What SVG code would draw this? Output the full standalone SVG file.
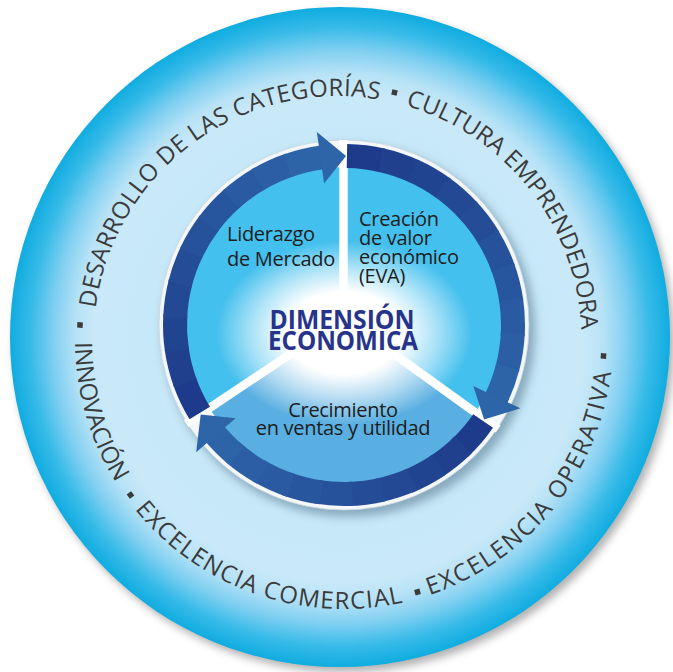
<svg xmlns="http://www.w3.org/2000/svg" xmlns:xlink="http://www.w3.org/1999/xlink" width="673" height="672" viewBox="0 0 673 672">
<style>
.ring{font-family:"Open Sans","Noto Sans","DejaVu Sans",sans-serif;font-size:24px;fill:#3b3b3b;}
.lbl{font-family:"Open Sans","Noto Sans","DejaVu Sans",sans-serif;font-size:20px;fill:#1c1c1c;letter-spacing:-0.3px;}
.title{font-family:"Open Sans","Noto Sans","DejaVu Sans",sans-serif;font-size:27px;font-weight:700;fill:#27348b;}
.sep{fill:#3b3b3b;}
.seg{fill:none;stroke-width:24;}
.sepline{stroke:#ffffff;stroke-width:8.5;}
</style>
<defs>
<radialGradient id="outerGrad" cx="340" cy="337" r="330" gradientUnits="userSpaceOnUse">
<stop offset="0" stop-color="#d4effb"/>
<stop offset="0.6" stop-color="#c6e8f8"/>
<stop offset="0.74" stop-color="#c9e9f9"/>
<stop offset="0.8" stop-color="#b7e2f6"/>
<stop offset="0.87" stop-color="#7fcff1"/>
<stop offset="0.94" stop-color="#35bae8"/>
<stop offset="1" stop-color="#10ace0"/>
</radialGradient>
<radialGradient id="glow" cx="0.5" cy="0.5" r="0.5">
<stop offset="0" stop-color="#ffffff" stop-opacity="1"/>
<stop offset="0.45" stop-color="#ffffff" stop-opacity="1"/>
<stop offset="0.72" stop-color="#ffffff" stop-opacity="0.55"/>
<stop offset="1" stop-color="#ffffff" stop-opacity="0"/>
</radialGradient>
<filter id="blur5" x="-20%" y="-20%" width="140%" height="140%"><feGaussianBlur stdDeviation="5"/></filter>
<filter id="blur4" x="-20%" y="-20%" width="140%" height="140%"><feGaussianBlur stdDeviation="4"/></filter>
<path id="seg" d="M 513 325 A 169 169 0 0 1 509.18 360.71"/>
<polygon id="head" points="536.76,295.5 513,325 485.35,303.37"/>
<path id="pU1" d="M 95.6 308.15 A 244 244 0 0 1 379.0 99.6"/>
<path id="pU2" d="M 405.6 105.7 A 244 244 0 0 1 581.3 330.2"/>
<path id="pL1" d="M 75.0 342.3 A 269 269 0 0 0 115.9 482.5"/>
<path id="pL2" d="M 134.9 509.3 A 269 269 0 0 0 403.1 602.4"/>
<path id="pL3" d="M 429.4 595.1 A 269 269 0 0 0 611.0 372.8"/>
</defs>

<g id="background">
<circle cx="344" cy="342" r="330" fill="#6f6f6f" opacity="0.55" filter="url(#blur4)"/>
<circle cx="340" cy="337" r="330" fill="url(#outerGrad)"/>
</g>

<g id="outer-ring-text">
<text class="ring"><textPath href="#pU1" xlink:href="#pU1" textLength="393" lengthAdjust="spacing">DESARROLLO DE LAS CATEGORÍAS</textPath></text>
<text class="ring"><textPath href="#pU2" xlink:href="#pU2" textLength="304" lengthAdjust="spacing">CULTURA EMPRENDEDORA</textPath></text>
<text class="ring"><textPath href="#pL1" xlink:href="#pL1" textLength="148" lengthAdjust="spacing">INNOVACIÓN</textPath></text>
<text class="ring"><textPath href="#pL2" xlink:href="#pL2" textLength="299" lengthAdjust="spacing">EXCELENCIA COMERCIAL</textPath></text>
<text class="ring"><textPath href="#pL3" xlink:href="#pL3" textLength="303" lengthAdjust="spacing">EXCELENCIA OPERATIVA</textPath></text>
<rect class="sep" x="-2.75" y="-2.75" width="5.5" height="5.5" transform="translate(394.5 92.5) rotate(13)"/>
<rect class="sep" x="-2.75" y="-2.75" width="5.5" height="5.5" transform="translate(603.5 356) rotate(93)"/>
<rect class="sep" x="-2.75" y="-2.75" width="5.5" height="5.5" transform="translate(417.5 592) rotate(-16)"/>
<rect class="sep" x="-2.75" y="-2.75" width="5.5" height="5.5" transform="translate(130.5 495) rotate(54)"/>
<rect class="sep" x="-2.75" y="-2.75" width="5.5" height="5.5" transform="translate(80 325) rotate(93)"/>
</g>

<g id="disc">
<circle cx="349" cy="331" r="186" fill="#4a6c84" opacity="0.5" filter="url(#blur5)"/>
<circle cx="344" cy="325" r="185" fill="#f3f7f9" stroke="#cdd6dc" stroke-width="0.8"/>
<circle cx="344" cy="325" r="158" fill="#44c0ee"/>
<path d="M 344 318 L 475.0 413.35 A 158 158 0 0 1 210.0 408.73 Z" fill="#59afe1"/>
<ellipse cx="344" cy="333" rx="128" ry="92" fill="url(#glow)"/>
<line class="sepline" x1="343.5" y1="318" x2="343.5" y2="140"/>
<line class="sepline" x1="344" y1="318" x2="498.2" y2="429.0"/>
<line class="sepline" x1="344" y1="318" x2="186.3" y2="423.6"/>
</g>

<g id="connectors">
<g id="arc-creacion">
<use href="#seg" xlink:href="#seg" class="seg" stroke="#1e3b8b" transform="rotate(-89 344 325)"/>
<use href="#seg" xlink:href="#seg" class="seg" stroke="#20408e" transform="rotate(-77.52 344 325)"/>
<use href="#seg" xlink:href="#seg" class="seg" stroke="#214491" transform="rotate(-66.04 344 325)"/>
<use href="#seg" xlink:href="#seg" class="seg" stroke="#234894" transform="rotate(-54.56 344 325)"/>
<use href="#seg" xlink:href="#seg" class="seg" stroke="#254d97" transform="rotate(-43.08 344 325)"/>
<use href="#seg" xlink:href="#seg" class="seg" stroke="#26519b" transform="rotate(-31.6 344 325)"/>
<use href="#seg" xlink:href="#seg" class="seg" stroke="#28569e" transform="rotate(-20.12 344 325)"/>
<use href="#seg" xlink:href="#seg" class="seg" stroke="#2a5aa1" transform="rotate(-8.64 344 325)"/>
<use href="#seg" xlink:href="#seg" class="seg" stroke="#2b5ea4" transform="rotate(2.84 344 325)"/>
<use href="#seg" xlink:href="#seg" class="seg" stroke="#2d63a7" transform="rotate(14.32 344 325)"/>
<use href="#head" xlink:href="#head" fill="#2e65a9" transform="rotate(34 344 325)"/>
</g>
<g id="arc-crecimiento">
<use href="#seg" xlink:href="#seg" class="seg" stroke="#1e3b8b" transform="rotate(34.6 344 325)"/>
<use href="#seg" xlink:href="#seg" class="seg" stroke="#20408e" transform="rotate(45.12 344 325)"/>
<use href="#seg" xlink:href="#seg" class="seg" stroke="#214491" transform="rotate(55.64 344 325)"/>
<use href="#seg" xlink:href="#seg" class="seg" stroke="#234894" transform="rotate(66.16 344 325)"/>
<use href="#seg" xlink:href="#seg" class="seg" stroke="#254d97" transform="rotate(76.68 344 325)"/>
<use href="#seg" xlink:href="#seg" class="seg" stroke="#26519b" transform="rotate(87.2 344 325)"/>
<use href="#seg" xlink:href="#seg" class="seg" stroke="#28569e" transform="rotate(97.72 344 325)"/>
<use href="#seg" xlink:href="#seg" class="seg" stroke="#2a5aa1" transform="rotate(108.24 344 325)"/>
<use href="#seg" xlink:href="#seg" class="seg" stroke="#2b5ea4" transform="rotate(118.76 344 325)"/>
<use href="#seg" xlink:href="#seg" class="seg" stroke="#2d63a7" transform="rotate(129.28 344 325)"/>
<use href="#head" xlink:href="#head" fill="#2e65a9" transform="rotate(148 344 325)"/>
</g>
<g id="arc-liderazgo">
<use href="#seg" xlink:href="#seg" class="seg" stroke="#1e3b8b" transform="rotate(148.6 344 325)"/>
<use href="#seg" xlink:href="#seg" class="seg" stroke="#20408e" transform="rotate(159.92 344 325)"/>
<use href="#seg" xlink:href="#seg" class="seg" stroke="#214491" transform="rotate(171.24 344 325)"/>
<use href="#seg" xlink:href="#seg" class="seg" stroke="#234894" transform="rotate(182.56 344 325)"/>
<use href="#seg" xlink:href="#seg" class="seg" stroke="#254d97" transform="rotate(193.88 344 325)"/>
<use href="#seg" xlink:href="#seg" class="seg" stroke="#26519b" transform="rotate(205.2 344 325)"/>
<use href="#seg" xlink:href="#seg" class="seg" stroke="#28569e" transform="rotate(216.52 344 325)"/>
<use href="#seg" xlink:href="#seg" class="seg" stroke="#2a5aa1" transform="rotate(227.84 344 325)"/>
<use href="#seg" xlink:href="#seg" class="seg" stroke="#2b5ea4" transform="rotate(239.16 344 325)"/>
<use href="#seg" xlink:href="#seg" class="seg" stroke="#2d63a7" transform="rotate(250.48 344 325)"/>
<use href="#head" xlink:href="#head" fill="#2e65a9" transform="rotate(-89.3 344 325)"/>
</g>
</g>

<g id="node-liderazgo">
<text class="lbl" x="227" y="241">Liderazgo</text>
<text class="lbl" x="227" y="266">de Mercado</text>
</g>
<g id="node-creacion">
<text class="lbl" x="359" y="226">Creación</text>
<text class="lbl" x="359" y="245">de valor</text>
<text class="lbl" x="359" y="264">económico</text>
<text class="lbl" x="359" y="283">(EVA)</text>
</g>
<g id="node-crecimiento">
<text class="lbl" x="343" y="417" text-anchor="middle">Crecimiento</text>
<text class="lbl" x="343" y="435" text-anchor="middle">en ventas y utilidad</text>
</g>
<g id="node-center">
<text class="title" x="342" y="329" text-anchor="middle" textLength="145" lengthAdjust="spacingAndGlyphs">DIMENSIÓN</text>
<text class="title" x="343" y="350" text-anchor="middle" textLength="150" lengthAdjust="spacingAndGlyphs">ECONÓMICA</text>
</g>
</svg>
